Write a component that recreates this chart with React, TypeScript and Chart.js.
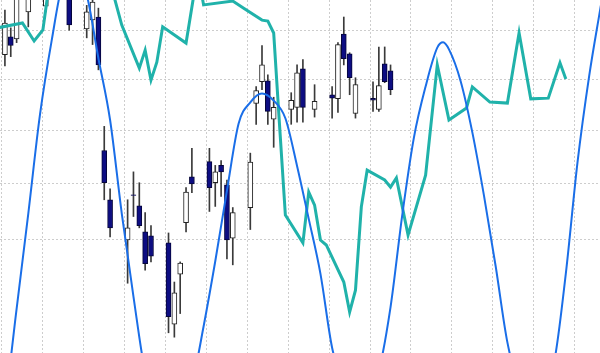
import React, { useEffect, useRef } from 'react';
import { Chart, registerables } from 'chart.js';

Chart.register(...registerables);

// ---- Candles (day index, OHLC) ----
const candleDays = [0, 1, 2, 4, 7, 11, 14, 15, 16, 17, 18, 21, 22, 23, 24, 25, 28, 29, 30, 31, 32, 35, 36, 37, 38, 39, 42, 43, 44, 45, 46, 49, 50, 51, 53, 56, 57, 58, 59, 60, 63, 64, 65, 66];
const opens = [225.0, 228.7, 228.3, 234.0, 235.2, 237.5, 230.4, 232.3, 232.9, 206.1, 197.0, 189.9, 197.9, 195.9, 191.3, 190.6, 189.4, 175.8, 184.0, 192.9, 201.2, 204.0, 200.1, 203.3, 199.7, 190.2, 195.6, 215.2, 219.5, 219.7, 212.1, 214.0, 214.4, 222.1, 214.0, 216.9, 216.1, 229.3, 225.2, 213.2, 216.2, 214.0, 223.1, 221.7];
const highs = [234.4, 230.6, 238.6, 238.2, 239.7, 238.6, 235.4, 237.1, 234.8, 210.7, 199.0, 197.0, 202.1, 200.1, 194.7, 192.4, 191.1, 182.7, 186.1, 199.2, 206.5, 206.5, 203.3, 204.2, 200.6, 195.6, 205.6, 218.5, 226.9, 220.9, 216.4, 217.3, 222.9, 224.0, 218.9, 218.5, 227.5, 232.9, 225.4, 220.3, 219.5, 226.6, 226.6, 222.9];
const lows = [222.7, 224.6, 227.5, 230.8, 234.0, 230.1, 228.5, 227.1, 221.9, 197.0, 190.4, 182.5, 194.0, 192.0, 184.7, 186.1, 174.4, 173.7, 177.5, 191.3, 198.3, 194.9, 195.8, 197.6, 186.6, 185.6, 191.7, 211.1, 217.9, 211.1, 206.7, 211.1, 211.5, 211.5, 212.5, 212.3, 213.4, 222.9, 216.9, 212.3, 213.6, 213.6, 219.3, 216.9];
const closes = [231.6, 226.9, 237.4, 237.1, 238.6, 231.2, 234.0, 236.1, 222.9, 200.1, 192.0, 192.0, 197.8, 192.4, 185.8, 187.1, 177.0, 180.9, 185.9, 198.4, 199.9, 199.2, 202.1, 202.1, 189.9, 194.7, 203.9, 217.7, 222.9, 213.6, 214.4, 215.8, 221.3, 214.4, 215.6, 216.2, 227.1, 224.2, 220.3, 218.9, 215.8, 218.7, 219.5, 217.9];

// ---- Oscillator (teal) ----
const tealDays = [-1, 3, 5, 6.5, 8, 18, 20, 23, 24, 25, 26, 27, 31, 33, 34, 39, 41, 44, 45, 46, 47, 48, 51, 52, 53, 54, 55, 58, 59, 60, 61, 62, 65, 66, 67, 69, 72, 74, 76, 79, 80, 83, 86, 88, 90, 93, 95, 96];
const tealValues = [92.2, 93.5, 88.4, 91.5, 109.6, 105.1, 92.9, 80.7, 85.8, 77.3, 82.4, 92.4, 87.8, 108.2, 98.6, 99.7, 97.5, 94.3, 94.05, 90.65, 64.6, 39.1, 31.2, 45.6, 41.9, 32.0, 30.6, 20.1, 11.6, 17.8, 41.4, 51.8, 49.0, 47.0, 49.6, 33.4, 50.4, 81.6, 66.0, 69.4, 75.4, 71.1, 70.8, 90.7, 72.0, 72.2, 82.2, 77.6];

// ---- Cycle (blue) ----
const cycleDays = [-2, 0, 2, 4, 6, 8, 10, 12, 14, 16, 18, 20, 22, 24, 26, 28, 30, 32, 34, 36, 38, 40, 42, 44, 46, 48, 50, 52, 54, 56, 58, 60, 62, 64, 66, 68, 70, 72, 74, 75, 76, 78, 80, 82, 84, 86, 88, 90, 92, 94, 96, 98, 100, 102];
const cycleValues = [-1.44, -1.27, -0.75, -0.21, 0.35, 0.77, 1.11, 1.17, 1.03, 0.67, 0.32, -0.21, -0.68, -1.11, -1.32, -1.38, -1.35, -1.18, -0.85, -0.48, -0.08, 0.30, 0.42, 0.47, 0.43, 0.33, 0.06, -0.24, -0.55, -0.97, -1.18, -1.27, -1.25, -1.10, -0.74, -0.22, 0.22, 0.51, 0.73, 0.76, 0.72, 0.54, 0.25, -0.11, -0.51, -0.94, -1.18, -1.27, -1.18, -1.05, -0.55, 0.08, 0.57, 0.97];

// ---- Grid ----
const gridPrices = [190, 200, 210, 220, 230];
const weekStarts = [-0.5, 6.5, 13.5, 20.5, 27.5, 34.5, 41.5, 48.5, 55.5, 62.5, 69.5, 76.5, 83.5, 90.5, 97.5];

const X_MIN = -0.842;
const X_MAX = 101.85;
const PRICE_MIN = 171.2;
const PRICE_MAX = 236.56;

const GRID = '#cdcdcd';
const TEAL = '#20b2aa';
const BLUE = '#1a6ee8';
const NAVY = '#0d0d82';

export default function App() {
  const ref = useRef<HTMLCanvasElement>(null);
  useEffect(() => {
    if (!ref.current) return;
    const bodies = candleDays.map((d, k) => ({ x: d, y: [opens[k], closes[k]] }));
    const wicks = candleDays.map((d, k) => ({ x: d, y: [lows[k], highs[k]] }));
    const up = candleDays.map((_, k) => closes[k] >= opens[k]);
    const chart = new Chart(ref.current, {
      type: 'bar',
      data: {
        datasets: [
          {
            type: 'line',
            data: cycleDays.map((d, k) => ({ x: d, y: cycleValues[k] })),
            yAxisID: 'yCycle',
            borderColor: BLUE,
            borderWidth: 2,
            pointRadius: 0,
            cubicInterpolationMode: 'monotone',
            order: 0,
          } as any,
          {
            type: 'line',
            data: tealDays.map((d, k) => ({ x: d, y: tealValues[k] })),
            yAxisID: 'yOsc',
            borderColor: TEAL,
            borderWidth: 3,
            pointRadius: 0,
            tension: 0,
            order: 1,
          } as any,
          {
            type: 'bar',
            data: bodies,
            yAxisID: 'y',
            backgroundColor: up.map((u) => (u ? '#ffffff' : NAVY)),
            borderColor: up.map((u) => (u ? '#222222' : '#05053a')),
            borderWidth: 1,
            borderSkipped: false,
            barThickness: 5,
            grouped: false,
            order: 2,
          } as any,
          {
            type: 'bar',
            data: wicks,
            yAxisID: 'y',
            backgroundColor: '#3a3a3a',
            barThickness: 1,
            grouped: false,
            order: 3,
          } as any,
        ],
      },
      options: {
        animation: false,
        responsive: true,
        maintainAspectRatio: false,
        events: [],
        layout: { padding: 0 },
        plugins: { legend: { display: false }, tooltip: { enabled: false } },
        scales: {
          x: {
            type: 'linear',
            min: X_MIN,
            max: X_MAX,
            bounds: 'data',
            offset: false,
            grid: { color: GRID, lineWidth: 1, drawTicks: false, offset: false },
            border: { display: false, dash: [2, 2] },
            ticks: { display: false },
            afterBuildTicks: (s: any) => {
              s.ticks = weekStarts.map((v) => ({ value: v }));
            },
          },
          y: {
            type: 'logarithmic',
            min: PRICE_MIN,
            max: PRICE_MAX,
            bounds: 'data',
            grid: { color: GRID, lineWidth: 1, drawTicks: false },
            border: { display: false, dash: [2, 2] },
            ticks: { display: false },
            afterBuildTicks: (s: any) => {
              s.ticks = gridPrices.map((v) => ({ value: v }));
            },
          },
          yOsc: { type: 'linear', display: false, min: 0, max: 100 },
          yCycle: { type: 'linear', display: false, min: -1, max: 1 },
        } as any,
      },
    });
    return () => chart.destroy();
  }, []);
  return (
    <div style={{ position: 'fixed', left: 0, top: 0, width: 600, height: 353, background: '#fff' }}>
      <canvas ref={ref} />
    </div>
  );
}
